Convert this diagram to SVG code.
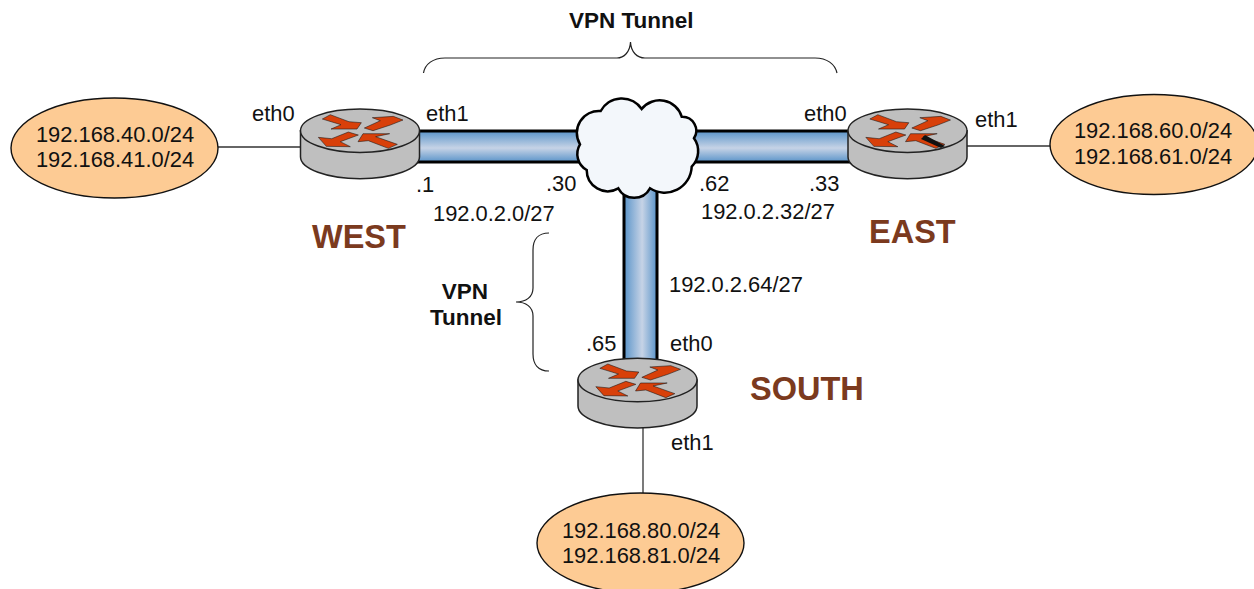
<svg xmlns="http://www.w3.org/2000/svg" width="1254" height="589" viewBox="0 0 1254 589">
<style>
text{font-family:"Liberation Sans",Arial,sans-serif;font-size:21.900px;fill:#111}
.c{text-anchor:middle}
.b{font-weight:bold;font-size:22.500px}
.name{font-weight:bold;font-size:32.500px;fill:#7b3a1e}
.net{fill:#fdcb94;stroke:#111;stroke-width:1.4}
.wire{fill:none;stroke:#333;stroke-width:1.300}
.brace{fill:none;stroke:#222;stroke-width:1.200}
.edge{stroke:#000;stroke-width:3;fill:none}
.body{fill:#bfbfbf;stroke:#222;stroke-width:1.500}
.arrow{fill:#d8400a;stroke:#111;stroke-width:1.600;stroke-linejoin:miter}
</style>
<defs>
<linearGradient id="gv" x1="0" y1="0" x2="0" y2="1"><stop offset="0" stop-color="#5a94c9"/><stop offset=".55" stop-color="#c6d3e6"/><stop offset="1" stop-color="#5a94c9"/></linearGradient>
<linearGradient id="gh" x1="0" y1="0" x2="1" y2="0"><stop offset="0" stop-color="#5a94c9"/><stop offset=".55" stop-color="#c6d3e6"/><stop offset="1" stop-color="#5a94c9"/></linearGradient>
<g id="router">
<path class="body" d="M-59.500 0V26A59.500 22 0 0 0 59.500 26V0Z"/>
<ellipse class="body" rx="59.500" ry="21.700"/>
<g transform="scale(.3333) translate(-135 -77)">
<path class="arrow" d="M22 42L46 29L102 50L139 53L126 72L48 72L78 59Z"/>
<path class="arrow" d="M148 69L174 77L226 60L264 45L235 34L172 38L196 47Z"/>
<path class="arrow" d="M130 90L100 81L50 101L10 97L34 124L106 125L76 110Z"/>
<path class="arrow" d="M247 118L220 130L160 107L129 110L144 86L224 86L182 95Z"/>
</g>
</g>
</defs>
<g id="connectors">
<path class="wire" d="M218 147H302"/>
<path class="wire" d="M966 146H1050"/>
<path class="wire" d="M643 426V493"/>
<rect x="415" y="131" width="170" height="31" fill="url(#gv)"/>
<path class="edge" d="M415 131H585M415 162H585"/>
<rect x="690" y="131" width="162" height="31" fill="url(#gv)"/>
<path class="edge" d="M690 131H852M690 162H852"/>
<rect x="624" y="185" width="33" height="180" fill="url(#gh)"/>
<path class="edge" d="M624 185V365M657 185V365"/>
<path class="brace" d="M423.500 73C425 64 433 58 445 58H617C624 58 630 52 630.500 42C631 52 637 58 645 58H815C827 58 835 64 837 73"/>
<path class="brace" d="M549 233C538 233 533 240 533 250V288C533 297 526 302 516 302C526 302 533 307 533 316V354C533 364 538 371 549 371"/>
</g>
<g id="net-west"><ellipse class="net" cx="114.500" cy="148" rx="103.500" ry="50"/><text class="c" x="115" y="142">192.168.40.0/24</text><text class="c" x="115" y="167">192.168.41.0/24</text></g>
<g id="net-east"><ellipse class="net" cx="1154" cy="144.500" rx="104" ry="50"/><text class="c" x="1153" y="138">192.168.60.0/24</text><text class="c" x="1153" y="164">192.168.61.0/24</text></g>
<g id="net-south"><ellipse class="net" cx="640.500" cy="543" rx="103.500" ry="50"/><text class="c" x="641" y="538">192.168.80.0/24</text><text class="c" x="641" y="563">192.168.81.0/24</text></g>
<g id="cloud"><path fill="#f3f7fb" stroke="#000" stroke-width="2.500" d="M641.700 109A23 23 0 0 1 681.700 116.700A14 14 0 0 1 694 138.300A22 22 0 0 1 691.700 166.700A27 27 0 0 1 650 188.300A18 18 0 0 1 618.300 188.300A21 21 0 0 1 586.700 170A18.500 18.500 0 0 1 580 144.300A22 22 0 0 1 600.700 111A24 24 0 0 1 641.700 109Z"/></g>
<g id="router-west"><use href="#router" x="360" y="130.700"/><text x="426" y="121">eth1</text><text x="252" y="121">eth0</text><text x="416" y="192">.1</text></g>
<g id="router-east"><use href="#router" x="907.500" y="130.700"/><path fill="#111" d="M925 135L945 146L941 148L921 139Z"/><text x="804" y="121">eth0</text><text x="975" y="127">eth1</text><text x="809" y="191">.33</text></g>
<g id="router-south"><use href="#router" x="637.500" y="380"/><text x="670" y="351">eth0</text><text x="671" y="450">eth1</text><text x="586" y="351">.65</text></g>
<g id="labels">
<text x="546" y="191">.30</text><text x="699" y="191">.62</text>
<text x="433" y="221">192.0.2.0/27</text><text x="701" y="219">192.0.2.32/27</text><text x="669" y="292">192.0.2.64/27</text>
<text class="name" x="312" y="248">WEST</text><text class="name" x="869" y="243">EAST</text><text class="name" x="750" y="400">SOUTH</text>
<text class="b" x="569" y="28">VPN Tunnel</text><text class="b c" x="465" y="299">VPN</text><text class="b c" x="466" y="325">Tunnel</text>
</g>
</svg>
